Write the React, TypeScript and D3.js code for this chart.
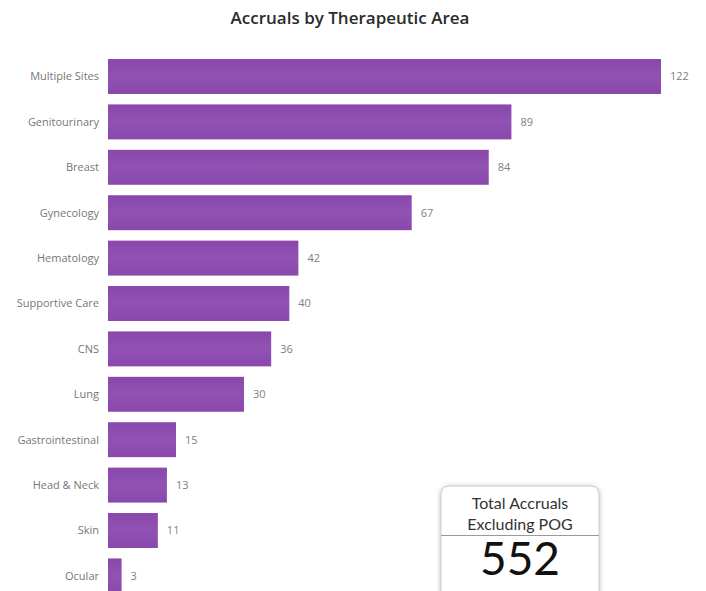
import React from "react";
import * as d3 from "d3";

const categories = [
  "Multiple Sites",
  "Genitourinary",
  "Breast",
  "Gynecology",
  "Hematology",
  "Supportive Care",
  "CNS",
  "Lung",
  "Gastrointestinal",
  "Head & Neck",
  "Skin",
  "Ocular",
];
const values = [122, 89, 84, 67, 42, 40, 36, 30, 15, 13, 11, 3];
const title = "Accruals by Therapeutic Area";
const cardLines = ["Total Accruals", "Excluding POG"];
const cardValue = d3.sum(values);

const W = 706;
const H = 591;

export default function App() {
  const x = d3.scaleLinear().domain([0, 122]).range([108, 661]);
  const step = 45.4;
  const y = d3
    .scaleBand<string>()
    .domain(categories)
    .range([53.8, 53.8 + step * categories.length])
    .paddingInner(0.23)
    .paddingOuter(0.115);

  return (
    <svg
      width={W}
      height={H}
      style={{ position: "absolute", left: 0, top: 0, background: "#fff" }}
      fontFamily="'Open Sans', sans-serif"
    >
      <defs>
        <filter id="shadow" x="-20%" y="-20%" width="140%" height="140%">
          <feDropShadow dx="0" dy="1" stdDeviation="2.5" floodColor="#000" floodOpacity="0.3" />
        </filter>
        <linearGradient id="barGrad" x1="0" x2="0" y1="0" y2="1">
          <stop offset="0" stopColor="#8a47ad" />
          <stop offset="0.5" stopColor="#9152b3" />
          <stop offset="1" stopColor="#8a47ad" />
        </linearGradient>
      </defs>
      <text
        x={350}
        y={24}
        textAnchor="middle"
        fontSize={17}
        fontWeight={600}
        fill="#2b2b2b"
      >
        {title}
      </text>
      {categories.map((c, i) => {
        const by = y(c)!;
        const bw = y.bandwidth();
        return (
          <g key={c}>
            <rect
              x={x(0)}
              y={by}
              width={x(values[i]) - x(0)}
              height={bw}
              fill="url(#barGrad)"
            />
            <text
              x={99}
              y={by + bw / 2}
              dy="0.35em"
              textAnchor="end"
              fontSize={11}
              fill="#777"
            >
              {c}
            </text>
            <text
              x={x(values[i]) + 9}
              y={by + bw / 2}
              dy="0.35em"
              fontSize={11}
              fill="#808080"
            >
              {values[i]}
            </text>
          </g>
        );
      })}
      <g filter="url(#shadow)">
        <rect x={441} y={486} width={158} height={120} rx={8} fill="#fff" stroke="#bdbdbd" strokeWidth={0.8} />
      </g>
      <text x={520} y={509} textAnchor="middle" fontFamily="Lato, sans-serif" fontSize={16} fill="#333">
        {cardLines[0]}
      </text>
      <text x={520} y={530} textAnchor="middle" fontFamily="Lato, sans-serif" fontSize={16} fill="#333">
        {cardLines[1]}
      </text>
      <line x1={441} x2={599} y1={535.5} y2={535.5} stroke="#9a9a9a" strokeWidth={1} />
      <text x={520} y={575} textAnchor="middle" fontFamily="Lato, sans-serif" fontSize={46} fill="#111">
        {cardValue}
      </text>
    </svg>
  );
}
